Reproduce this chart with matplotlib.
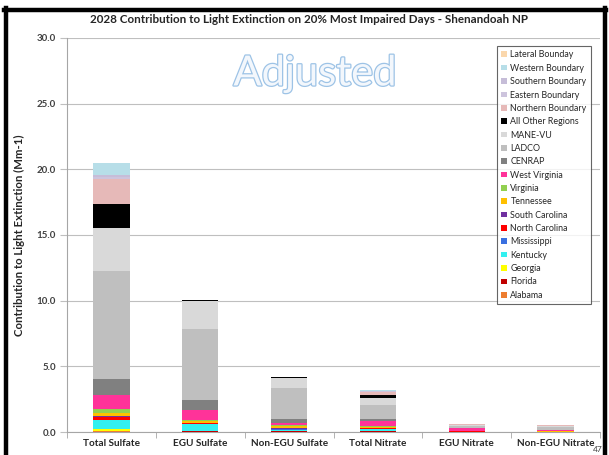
import matplotlib
matplotlib.use("Agg")
import matplotlib.pyplot as plt
import matplotlib.patheffects as pe
from matplotlib.lines import Line2D
import numpy as np

plt.rcParams['font.family'] = ['Lato', 'DejaVu Sans']

categories = ["Total Sulfate", "EGU Sulfate", "Non-EGU Sulfate",
              "Total Nitrate", "EGU Nitrate", "Non-EGU Nitrate"]

# stacked from bottom to top
series_names = ["Alabama", "Florida", "Georgia", "Kentucky", "Mississippi",
                "North Carolina", "South Carolina", "Tennessee", "Virginia",
                "West Virginia", "CENRAP", "LADCO", "MANE-VU",
                "All Other Regions", "Northern Boundary", "Eastern Boundary",
                "Southern Boundary", "Western Boundary", "Lateral Bounday"]

alabama   = [0.05, 0.03, 0.02, 0.02, 0.00, 0.00]
florida   = [0.05, 0.02, 0.02, 0.02, 0.00, 0.00]
georgia   = [0.12, 0.03, 0.03, 0.03, 0.00, 0.00]
kentucky  = [0.70, 0.50, 0.12, 0.15, 0.03, 0.02]
mississippi = [0.02, 0.01, 0.01, 0.01, 0.00, 0.00]
n_carolina = [0.20, 0.08, 0.05, 0.05, 0.02, 0.01]
s_carolina = [0.05, 0.02, 0.02, 0.01, 0.00, 0.00]
tennessee = [0.25, 0.15, 0.15, 0.07, 0.01, 0.01]
virginia  = [0.30, 0.07, 0.15, 0.10, 0.02, 0.02]
w_virginia = [1.07, 0.77, 0.15, 0.40, 0.20, 0.08]
cenrap    = [1.22, 0.76, 0.25, 0.16, 0.03, 0.05]
ladco     = [8.23, 5.40, 2.35, 1.04, 0.12, 0.20]
mane_vu   = [3.24, 2.13, 0.80, 0.53, 0.10, 0.06]
all_other = [1.87, 0.08, 0.05, 0.20, 0.03, 0.02]
northern  = [1.88, 0.00, 0.02, 0.25, 0.05, 0.04]
eastern   = [0.15, 0.00, 0.00, 0.05, 0.01, 0.01]
southern  = [0.17, 0.00, 0.00, 0.05, 0.01, 0.01]
western   = [0.88, 0.00, 0.00, 0.06, 0.01, 0.01]
lateral   = [0.02, 0.00, 0.00, 0.00, 0.00, 0.00]

series_values = [alabama, florida, georgia, kentucky, mississippi, n_carolina,
                 s_carolina, tennessee, virginia, w_virginia, cenrap, ladco,
                 mane_vu, all_other, northern, eastern, southern, western, lateral]

colors = ["#ED7D31", "#C00000", "#FFFF00", "#33F0F0", "#3A6FE0",
          "#FF0000", "#7030A0", "#FFC000", "#92D050",
          "#FF3399", "#808080", "#BFBFBF", "#D9D9D9",
          "#000000", "#E6B9B8", "#CDC4DD",
          "#C6BDD8", "#B7DEE8", "#FAD7AC"]

yticks = [0, 5, 10, 15, 20, 25, 30]
ytick_labels = ["0.0", "5.0", "10.0", "15.0", "20.0", "25.0", "30.0"]

fig = plt.figure(figsize=(6.09, 4.55), dpi=100)
ax = fig.add_axes([67/609, 1-432/455, (600-67)/609, (432-38)/455])

x = np.arange(len(categories))
bottom = np.zeros(len(categories))
handles = []
for name, vals, c in zip(series_names, series_values, colors):
    v = np.array(vals)
    b = ax.bar(x, v, 0.41, bottom=bottom, color=c, label=name, zorder=3)
    bottom += v
    handles.append(b)

ax.set_xlim(-0.5, len(categories) - 0.5)
ax.set_ylim(0, 30)
ax.set_yticks(yticks)
ax.set_yticklabels(ytick_labels, fontsize=7, fontweight='bold', color='#404040')
ax.yaxis.grid(True, color='#BFBFBF', linewidth=0.8, zorder=0)
ax.set_axisbelow(True)
ax.tick_params(axis='y', length=5, color='#BFBFBF', pad=3)
ax.set_xticks(x)
ax.set_xticklabels(categories, fontsize=7.2, fontweight='bold', color='#262626')
ax.tick_params(axis='x', length=0, pad=5)
ax.set_xticks(np.arange(-0.5, len(categories), 1.0), minor=True)
ax.tick_params(axis='x', which='minor', length=4, color='#A6A6A6')
for s in ['top', 'right']:
    ax.spines[s].set_visible(False)
for s in ['left', 'bottom']:
    ax.spines[s].set_color('#A6A6A6')
    ax.spines[s].set_linewidth(0.8)

ax.set_ylabel("Contribution to Light Extinction (Mm-1)", fontsize=8.2,
              fontweight='bold', color='#262626', labelpad=8)

fig.text(309/609, 1-19.5/455,
         "2028 Contribution to Light Extinction on 20% Most Impaired Days - Shenandoah NP",
         ha='center', va='center', fontsize=8.4, fontweight='bold', color='#262626')

t = ax.text(0.465, 0.91, "Adjusted", transform=ax.transAxes, ha='center',
            va='center', fontsize=30, color='#F3F7FC')
t.set_path_effects([pe.withStroke(linewidth=1.8, foreground='#9DC3E6')])

leg = ax.legend(handles[::-1], series_names[::-1], loc='upper left',
                bbox_to_anchor=(497/609, 1-46/455), bbox_transform=fig.transFigure,
                fontsize=6.4, frameon=True, fancybox=False, handlelength=0.6,
                handleheight=0.6, handletextpad=0.4, labelspacing=0.49,
                borderpad=0.5, borderaxespad=0)
leg.get_frame().set_edgecolor('#404040')
leg.get_frame().set_linewidth(0.8)
for txt in leg.get_texts():
    txt.set_color('#262626')

fig.text(598/609, 1-449/455, "47", fontsize=6, color='#404040',
         ha='center', va='center')

# slide frame
def fl(x0, y0, x1, y1):
    fig.add_artist(Line2D([x0/609, x1/609], [1-y0/455, 1-y1/455],
                          color='black', linewidth=3.2, transform=fig.transFigure))
fl(4, 9.5, 606, 9.5)
fl(5.5, 8, 5.5, 455)
fl(604.5, 8, 604.5, 455)

fig.savefig("out.png", dpi=100)
